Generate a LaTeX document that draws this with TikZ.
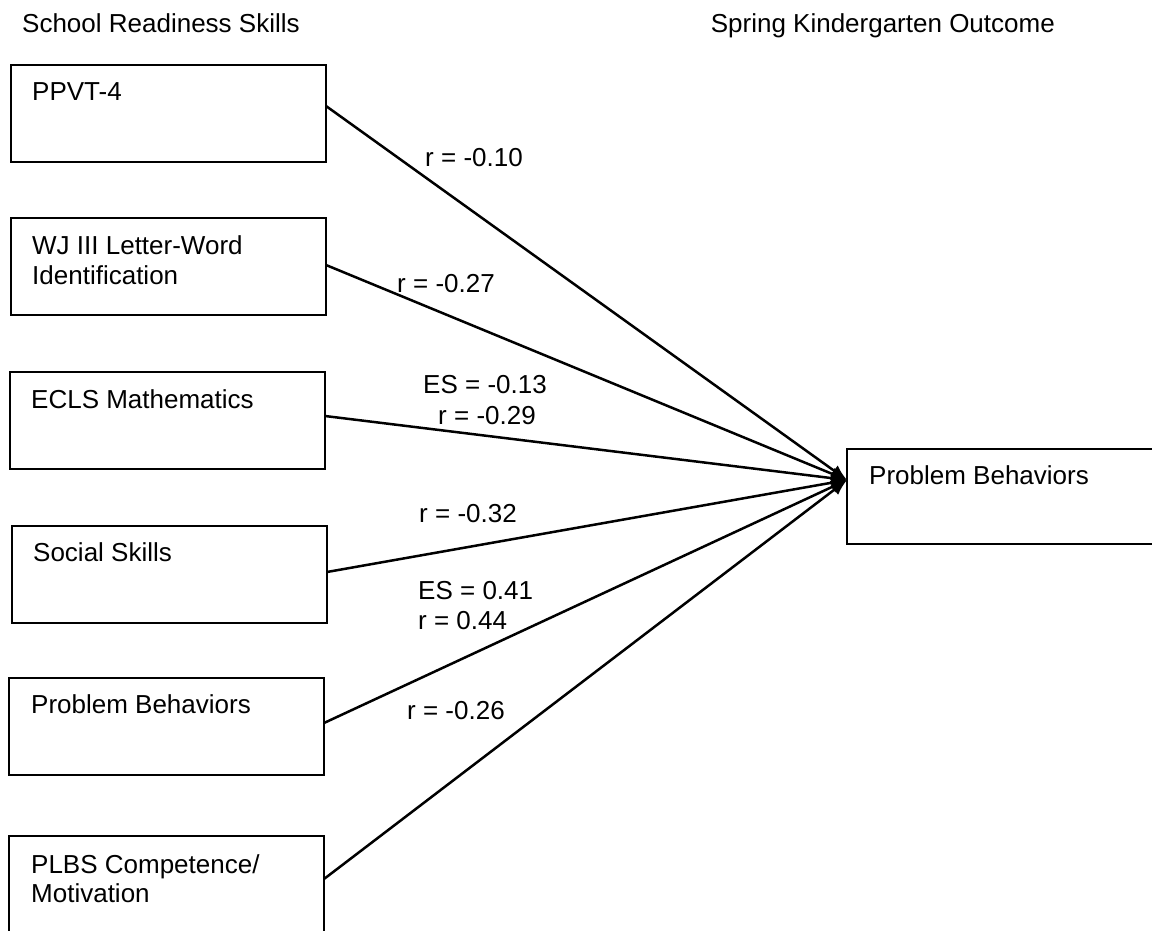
\documentclass[tikz,border=0pt]{standalone}
\usepackage{fontspec}
\setmainfont{Liberation Sans}
\usetikzlibrary{arrows.meta,calc}
\begin{document}
\begin{tikzpicture}[x=1pt,y=-1pt,
  box/.style={draw=black, line width=2.2pt, rectangle, minimum width=315pt, minimum height=97pt, anchor=north west, inner sep=0pt, outer sep=0pt},
  txt/.style={anchor=base west, inner sep=0pt, font=\fontsize{26}{30}\selectfont},
  lbl/.style={anchor=base, inner sep=0pt, font=\fontsize{26}{30}\selectfont},
  conn/.style={line width=2.5pt, -{Latex[length=16pt,width=13pt]}}
]
\useasboundingbox[fill=white] (0,0) rectangle (1152,931);

% headers
\node[txt] (h1) at (22,33) {School Readiness Skills};
\node[txt, anchor=base east] (h2) at (1055,33) {Spring Kindergarten Outcome};

% left boxes
\node[box] (b1) at (11,65) {};
\node[box] (b2) at (11,218) {};
\node[box] (b3) at (10,372) {};
\node[box] (b4) at (12,526) {};
\node[box] (b5) at (9,678) {};
\node[box, minimum height=100pt] (b6) at (9,836) {};

% right box
\node[box, minimum width=310pt, minimum height=95pt] (pb) at (847,449) {};

% box texts
\node[txt] (t1) at ($(b1.north west)+(21,36)$) {PPVT-4};
\node[txt] (t2a) at ($(b2.north west)+(21,36)$) {WJ III Letter-Word};
\node[txt] (t2b) at ($(b2.north west)+(21,66)$) {Identification};
\node[txt] (t3) at ($(b3.north west)+(21,36)$) {ECLS Mathematics};
\node[txt] (t4) at ($(b4.north west)+(21,35)$) {Social Skills};
\node[txt] (t5) at ($(b5.north west)+(22,35)$) {Problem Behaviors};
\node[txt] (t6a) at ($(b6.north west)+(22,37)$) {PLBS Competence/};
\node[txt] (t6b) at ($(b6.north west)+(22,66)$) {Motivation};
\node[txt] (tp) at ($(pb.north west)+(22,35)$) {Problem Behaviors};

% connector endpoints
\coordinate (tip) at ($(pb.north west)+(0,31)$);
\coordinate (s1) at ($(b1.north east)+(0,41)$);
\coordinate (s2) at ($(b2.north east)+(0,47)$);
\coordinate (s3) at ($(b3.north east)+(0,44)$);
\coordinate (s4) at ($(b4.north east)+(0,46)$);
\coordinate (s5) at ($(b5.north east)+(0,45)$);
\coordinate (s6) at ($(b6.north east)+(0,43)$);

\draw[conn] (s1) -- (tip);
\draw[conn] (s2) -- (tip);
\draw[conn] (s3) -- (tip);
\draw[conn] (s4) -- (tip);
\draw[conn] (s5) -- (tip);
\draw[conn] (s6) -- (tip);

% labels
\node[lbl] (l1) at (474,167) {r = -0.10};
\node[lbl] (l2) at (446,292) {r = -0.27};
\node[lbl] (l3a) at (485,393) {ES = -0.13};
\node[lbl] (l3b) at (487,424) {r = -0.29};
\node[lbl] (l4) at (468,522) {r = -0.32};
\node[txt] (l5a) at (418,599) {ES = 0.41};
\node[txt] (l5b) at (418,629) {r = 0.44};
\node[lbl] (l6) at (456,719) {r = -0.26};
\end{tikzpicture}
\end{document}
